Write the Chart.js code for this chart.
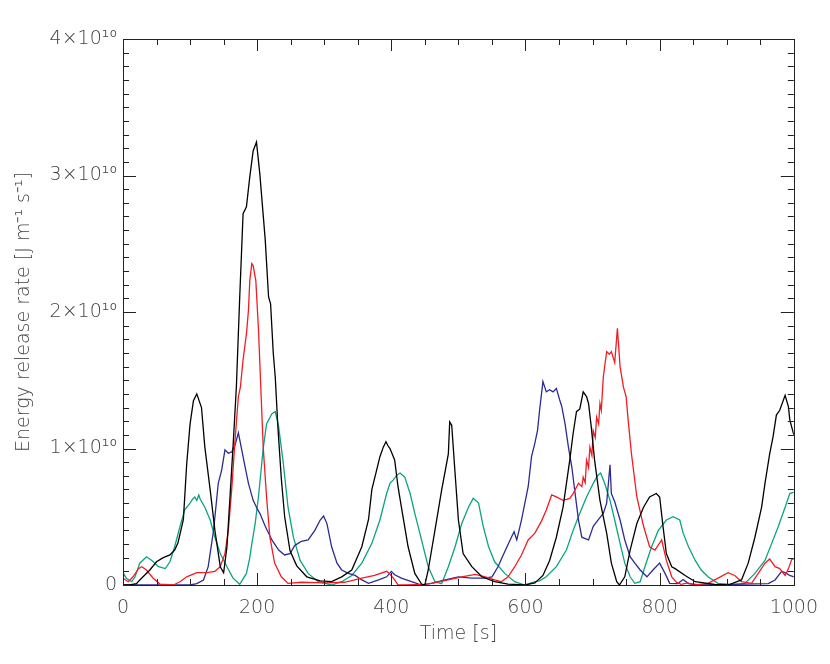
<!DOCTYPE html>
<html>
<head>
<meta charset="utf-8">
<script src="https://cdn.jsdelivr.net/npm/chart.js@4.4.0/dist/chart.umd.min.js"></script>
<style>
  html, body { margin: 0; padding: 0; background: #fff; }
  canvas { display: block; }
</style>
</head>
<body>
<canvas id="energyChart" width="830" height="664"></canvas>
<script>
// values in units of 1e10 J m^-1 s^-1, times in s
const SCALE = 1e10;

const blackTime = [0,10,20,25,40,50,60,70,77,82,
    90,95,100,105,110,117,122,130,137,145,
    150,155,164,169,174,179,184,189,194,199,
    204,212,217,220,224,227,231,236,241,249,
    259,274,294,311,326,341,356,366,371,378,
    383,388,392,395,398,403,405,410,415,425,
    435,445,450,455,465,475,485,487,490,495,
    500,507,520,535,554,574,599,614,626,636,
    646,656,666,671,676,681,686,691,694,698,
    703,711,721,728,736,740,748,756,766,776,
    785,795,800,805,810,818,823,838,853,882,
    902,922,932,942,952,957,964,969,974,979,
    987,992,994,1000];
const blackRate = [0,0,0.01,0.037,0.11,0.17,0.2,0.22,0.256,0.31,
    0.48,0.89,1.18,1.35,1.40,1.30,1.01,0.695,0.40,0.134,
    0.09,0.28,1.01,1.45,2.11,2.72,2.77,2.99,3.18,3.245,
    3.01,2.53,2.11,2.06,1.70,1.52,1.15,0.78,0.50,0.25,
    0.14,0.06,0.03,0.025,0.06,0.11,0.28,0.48,0.70,0.84,
    0.94,1.01,1.05,1.02,1.00,0.94,0.915,0.72,0.57,0.28,
    0.085,0.007,0,0.11,0.40,0.695,0.96,1.195,1.17,0.82,
    0.476,0.23,0.134,0.06,0.024,0.007,0,0.015,0.07,0.18,
    0.35,0.57,0.915,1.11,1.27,1.29,1.415,1.38,1.33,1.16,
    0.915,0.62,0.38,0.16,0.024,0,0.06,0.256,0.45,0.57,
    0.645,0.67,0.645,0.43,0.23,0.134,0.12,0.07,0.024,0.005,
    0,0.037,0.16,0.35,0.57,0.745,0.96,1.085,1.245,1.28,
    1.39,1.305,1.21,1.10];

const redTime = [0,8,15,23,28,35,45,55,75,85,
    95,110,125,137,145,152,157,162,167,172,
    175,179,184,187,189,192,194,198,202,205,
    209,214,219,226,236,246,266,300,330,356,
    375,393,397,405,410,420,450,465,485,505,
    525,540,554,564,574,584,594,604,614,624,
    631,639,646,656,666,671,679,684,686,689,
    691,694,696,699,701,704,706,709,711,713,
    716,721,725,728,733,737,741,746,750,753,
    758,766,776,785,793,803,810,818,825,832,
    842,852,872,887,902,912,922,937,947,957,
    964,972,979,987,992,997,1000];
const redRate = [0.05,0.024,0.06,0.12,0.134,0.11,0.05,0.007,0,0.024,
    0.06,0.09,0.09,0.10,0.134,0.23,0.40,0.695,1.06,1.38,
    1.45,1.65,1.84,2.01,2.23,2.355,2.34,2.23,1.87,1.50,
    1.01,0.645,0.35,0.16,0.06,0.012,0.02,0.015,0.02,0.05,
    0.07,0.10,0.085,0.037,0,0,0.005,0.017,0.037,0.06,
    0.078,0.06,0.037,0.024,0.06,0.134,0.22,0.33,0.38,0.47,
    0.55,0.66,0.645,0.62,0.635,0.67,0.745,0.72,0.79,0.75,
    0.915,0.86,1.01,0.95,1.13,1.08,1.23,1.18,1.33,1.28,
    1.525,1.71,1.69,1.71,1.63,1.88,1.60,1.45,1.38,1.21,
    0.96,0.645,0.43,0.28,0.256,0.33,0.18,0.06,0.02,0.005,
    0.015,0,0.012,0.05,0.09,0.07,0.024,0.012,0.085,0.16,
    0.19,0.134,0.12,0.07,0.12,0.19,0.19];

const blueTime = [0,100,110,120,127,135,142,147,152,157,
    162,167,172,177,182,187,194,201,204,212,
    222,232,241,249,256,261,266,276,286,294,
    299,304,311,319,326,336,346,356,366,381,
    393,400,405,415,430,445,460,480,500,520,
    540,550,559,569,579,583,587,594,604,609,
    614,618,621,626,631,636,641,646,651,654,
    659,664,669,674,679,684,689,694,701,708,
    716,721,726,728,733,741,748,756,763,771,
    781,790,800,808,815,827,835,843,860,962,
    972,982,989,994,1000];
const blueRate = [0,0,0.01,0.037,0.134,0.40,0.745,0.84,0.99,0.965,
    0.975,1.025,1.115,0.99,0.866,0.745,0.62,0.55,0.525,0.43,
    0.33,0.256,0.22,0.23,0.29,0.305,0.32,0.33,0.40,0.476,
    0.505,0.45,0.28,0.16,0.11,0.085,0.07,0.037,0.012,0.037,
    0.06,0.10,0.075,0.05,0.024,0,0.012,0.037,0.06,0.05,
    0.05,0.06,0.134,0.244,0.35,0.39,0.33,0.476,0.72,0.94,
    1.04,1.135,1.28,1.49,1.415,1.43,1.415,1.44,1.355,1.31,
    1.18,1.01,0.866,0.67,0.476,0.35,0.34,0.33,0.43,0.476,
    0.525,0.60,0.88,0.67,0.61,0.476,0.33,0.207,0.16,0.11,
    0.06,0.11,0.16,0.085,0.012,0.01,0.04,0.01,0,0.01,
    0.037,0.10,0.085,0.07,0.06];

const greenTime = [0,5,13,18,25,35,43,53,63,70,
    77,85,92,100,104,107,110,113,115,122,
    130,137,145,155,164,174,184,189,192,197,
    202,209,214,222,227,232,239,246,254,264,
    276,291,311,326,341,356,371,383,393,398,
    403,408,413,420,428,435,445,455,465,475,
    485,495,505,515,522,530,537,545,554,569,
    584,599,614,621,631,646,661,671,681,691,
    701,708,712,718,726,733,741,748,756,763,
    771,778,788,798,810,820,830,835,843,853,
    862,872,887,907,927,942,957,967,977,987,
    994,1000];
const greenRate = [0.09,0.05,0.024,0.06,0.16,0.207,0.18,0.134,0.12,0.17,
    0.28,0.43,0.55,0.60,0.63,0.645,0.62,0.66,0.63,0.57,
    0.476,0.35,0.23,0.134,0.05,0.005,0.085,0.20,0.30,0.45,
    0.65,1.0,1.18,1.255,1.27,1.16,0.89,0.57,0.35,0.18,
    0.085,0.024,0,0.024,0.07,0.16,0.305,0.476,0.67,0.745,
    0.77,0.805,0.82,0.79,0.67,0.525,0.33,0.134,0.024,0.01,
    0.134,0.28,0.45,0.57,0.635,0.60,0.43,0.28,0.17,0.085,
    0.024,0,0.024,0.03,0.06,0.134,0.256,0.40,0.525,0.645,
    0.745,0.805,0.82,0.745,0.62,0.476,0.305,0.16,0.06,0.012,
    0.024,0.134,0.28,0.40,0.476,0.50,0.476,0.38,0.28,0.18,
    0.11,0.06,0.012,0,0.012,0.085,0.18,0.305,0.43,0.57,
    0.67,0.68];

const xTickValues = [0, 200, 400, 600, 800, 1000];
const yTickValues = [0, 1, 2, 3, 4];

const textColor = '#444';
const axisFont = { family: 'DejaVu Sans', size: 19, weight: '200' };

const toPoints = (times, rates) => times.map((t, i) => ({ x: t, y: rates[i] * SCALE }));

const line = (times, rates, color) => ({
    data: toPoints(times, rates),
    borderColor: color,
    borderWidth: 1.3,
    pointRadius: 0,
    tension: 0,
    fill: false
});

// inward ticks on all four sides, IDL style
const boxTicks = {
    id: 'boxTicks',
    afterDraw(chart) {
        const { ctx, chartArea: a, scales: { x, y } } = chart;
        ctx.save();
        ctx.strokeStyle = '#222';
        ctx.lineWidth = 1;
        ctx.strokeRect(Math.round(a.left) + 0.5, Math.round(a.top) + 0.5,
            Math.round(a.right - a.left), Math.round(a.bottom - a.top));
        ctx.beginPath();
        for (let t = 0; t <= 1000; t += 50) {
            const px = Math.round(x.getPixelForValue(t)) + 0.5;
            const len = t % 200 === 0 ? 12 : 6;
            ctx.moveTo(px, a.bottom); ctx.lineTo(px, a.bottom - len);
            ctx.moveTo(px, a.top); ctx.lineTo(px, a.top + len);
        }
        for (let k = 0; k <= 40; k++) {
            const py = Math.round(y.getPixelForValue(k * 0.1 * SCALE)) + 0.5;
            const len = k % 10 === 0 ? 13 : 6;
            ctx.moveTo(a.left, py); ctx.lineTo(a.left + len, py);
            ctx.moveTo(a.right, py); ctx.lineTo(a.right - len, py);
        }
        ctx.stroke();
        ctx.restore();
    }
};

new Chart(document.getElementById('energyChart'), {
    type: 'line',
    data: {
        datasets: [
            line(blackTime, blackRate, '#000000'),
            line(redTime, redRate, '#f41c24'),
            line(blueTime, blueRate, '#2b2b92'),
            line(greenTime, greenRate, '#0aa383')
        ]
    },
    options: {
        responsive: false,
        animation: false,
        layout: { padding: { top: 39, right: 36, left: 0, bottom: 0 } },
        plugins: { legend: { display: false }, tooltip: { enabled: false } },
        scales: {
            x: {
                type: 'linear',
                min: 0,
                max: 1000,
                afterBuildTicks: s => { s.ticks = xTickValues.map(v => ({ value: v })); },
                ticks: { color: textColor, font: axisFont, padding: 12, maxRotation: 0, callback: v => String(v) },
                grid: { display: false, drawTicks: false },
                border: { display: false },
                title: { display: true, text: 'Time [s]', color: textColor, font: axisFont, padding: { top: 0, bottom: 19 } },
                afterFit: s => { s.height = 79; }
            },
            y: {
                min: 0,
                max: 4 * SCALE,
                afterBuildTicks: s => { s.ticks = yTickValues.map(v => ({ value: v * SCALE })); },
                ticks: {
                    color: textColor,
                    font: axisFont,
                    padding: 6,
                    callback: v => v === 0 ? '0' : `${Math.round(v / SCALE)}×10¹⁰`
                },
                grid: { display: false, drawTicks: false },
                border: { display: false },
                title: { display: true, text: 'Energy release rate [J m⁻¹ s⁻¹]', color: textColor, font: axisFont, padding: { top: 13, bottom: 0 } },
                afterFit: s => { s.width = 123; }
            }
        }
    },
    plugins: [boxTicks]
});
</script>
</body>
</html>
